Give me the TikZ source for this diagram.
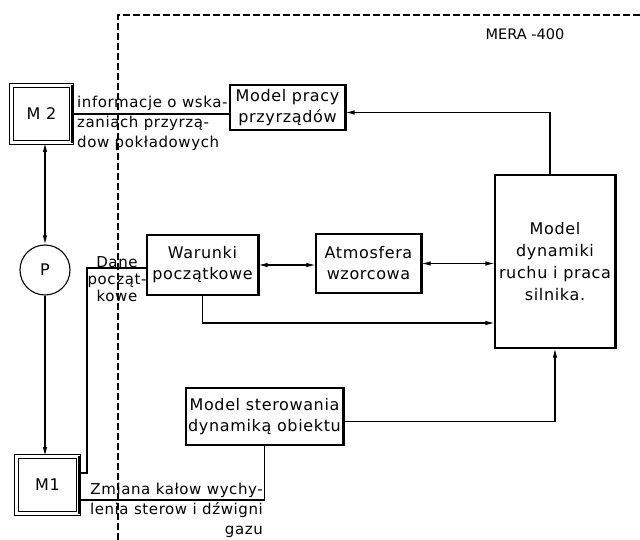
\documentclass[tikz,border=0pt]{standalone}
\usepackage{fontspec}
\usetikzlibrary{arrows.meta}
\newfontfamily\lett[LetterSpace=4]{DejaVu Sans}
\newfontfamily\plainf{DejaVu Sans}
\begin{document}
\begin{tikzpicture}[x=1pt,y=-1pt,
  every node/.style={font=\lett\fontsize{15}{20}\selectfont, inner sep=0pt},
  blk/.style={draw, line width=1.1pt, align=center, font=\lett\fontsize{16}{21}\selectfont},
  lbl/.style={align=left},
  con/.style={line width=1.1pt},
  arr/.style={con, -{Latex[length=9pt,width=4.5pt]}},
  darr/.style={con, {Latex[length=9pt,width=4.5pt]}-{Latex[length=9pt,width=4.5pt]}},
  heavy/.style={line width=2.6pt}
]
\useasboundingbox (0,0) rectangle (640,540);
\fill[white] (0,0) rectangle (640,540);

% computer boundary
\draw[dashed, dash pattern=on 7pt off 3pt, line width=1.1pt] (118,540) -- (118,15) -- (640,15);
\node[font=\plainf\fontsize{14.5}{16}\selectfont] (mera) at (525,34) {MERA -400};

% terminals
\node[draw, double, double distance=3pt, line width=0.9pt, minimum width=60pt, minimum height=57pt, font=\lett\fontsize{16}{20}\selectfont] (m2) at (41.5,114) {M 2};
\node[draw, double, double distance=3pt, line width=0.9pt, minimum width=62pt, minimum height=57pt, font=\lett\fontsize{16}{20}\selectfont] (m1) at (47.5,485) {M1};
\node[draw, circle, line width=1.1pt, minimum size=50pt, font=\lett\fontsize{16}{20}\selectfont] (p) at (45,270) {P};

% blocks
\node[blk, minimum width=115pt, minimum height=45pt] (pracy) at (287.5,107.5) {Model pracy\\przyrządów};
\node[blk, minimum width=111pt, minimum height=60pt] (war) at (202.5,265) {Warunki\\początkowe};
\node[blk, minimum width=105pt, minimum height=59pt] (atm) at (368.5,263.5) {Atmosfera\\wzorcowa};
\node[blk, minimum width=120pt, minimum height=173pt, font=\lett\fontsize{16}{22}\selectfont] (dyn) at (555,261.5) {Model\\dynamiki\\ruchu i praca\\silnika.};
\node[blk, minimum width=157pt, minimum height=57pt] (ster) at (264.5,416.5) {Model sterowania\\dynamiką obiektu};

% heavy right edges
\foreach \n in {m2,m1,pracy,war,atm,dyn,ster}
  \draw[heavy] (\n.north east) -- (\n.south east);

% connectors
\draw[darr] (p.north |- m2.south) -- (p.north);
\draw[arr] (p.south) -- (p.south |- m1.north);
\draw[con] (m2.east) -- (m2.east -| pracy.west);
\draw[arr] ([xshift=-5pt]dyn.north) |- ([yshift=-5pt]pracy.east);
\draw[darr] (war.east) -- (war.east -| atm.west);
\draw[darr] (atm.east) -- (atm.east -| dyn.west);
\draw[arr] (war.south) |- ([yshift=-61.5pt]dyn.west);
\draw[arr] ([yshift=-5pt]ster.east) -| (dyn.south);
\coordinate (dk) at (87,473);
\draw[con] (m1.east |- dk) -- (dk) |- ([yshift=-3pt]war.west);
\draw[con] (ster.south) |- ([yshift=-15pt]m1.east);

% labels
\node[lbl, anchor=west] (info) at (77,123) {informacje o wska-\\zaniach przyrzą-\\dow pokładowych};
\node[align=center, font=\lett\fontsize{15}{17}\selectfont] (dane) at (117,279) {Dane\\począt-\\kowe};
\node[align=right, anchor=east] (zm) at (263,510) {Zmiana kałow wychy-\\lenia sterow i dźwigni\\gazu};
\end{tikzpicture}
\end{document}
